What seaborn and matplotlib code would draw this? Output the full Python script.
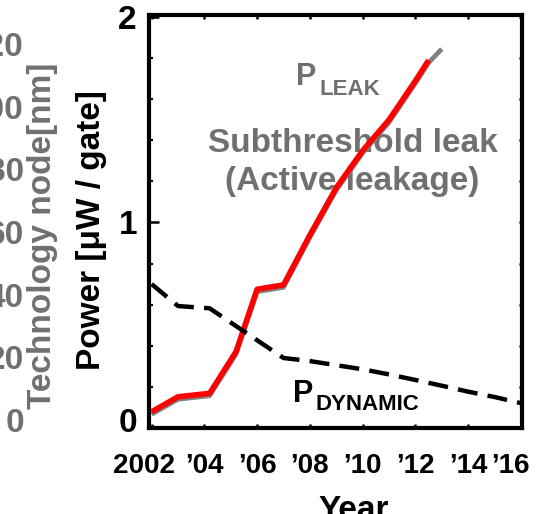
import matplotlib
matplotlib.use("Agg")
import matplotlib.pyplot as plt
import seaborn as sns
from matplotlib.ticker import MultipleLocator
from matplotlib.transforms import ScaledTranslation

# Leakage power (red), total leakage trend (gray) and dynamic power (dashed)
leak_years = [2002, 2003, 2004.2, 2005.2, 2006, 2007, 2008, 2009, 2010, 2011, 2012, 2012.5]
leak_power = [0.078, 0.151, 0.168, 0.371, 0.675, 0.696, 0.939, 1.169, 1.35, 1.50, 1.69, 1.79]
total_years = [2002, 2003, 2004.2, 2005.2, 2006, 2007, 2008, 2009, 2010, 2011, 2012, 2012.5, 2013]
total_power = [0.066, 0.139, 0.156, 0.359, 0.663, 0.684, 0.927, 1.157, 1.338, 1.488, 1.678, 1.778, 1.845]
dyn_years = [2002, 2003, 2004.2, 2007, 2008, 2009, 2010, 2011, 2012, 2013, 2014, 2015, 2016]
dyn_power = [0.70, 0.593, 0.582, 0.34, 0.325, 0.305, 0.285, 0.26, 0.233, 0.205, 0.176, 0.15, 0.12]

year_ticks = [2002, 2004, 2006, 2008, 2010, 2012, 2014, 2016]
year_labels = ["2002", "\u201904", "\u201906", "\u201908", "\u201910", "\u201912", "\u201914", "\u201916"]
power_ticks = [0, 1, 2]
node_ticks = [0, 20, 40, 60, 80, 100, 120]

RED = "#ff0000"
GRAY_LINE = "#808080"
GRAY_TEXT = "#707070"

sns.set_theme(style="ticks")
plt.rcParams["font.family"] = ["Liberation Sans", "DejaVu Sans"]
plt.rcParams["font.weight"] = "bold"

fig = plt.figure(figsize=(5.45, 5.14), dpi=100)
ax = fig.add_axes([0.27431, 0.16770, 0.68294, 0.80370])

sns.lineplot(x=total_years, y=total_power, ax=ax, color=GRAY_LINE, linewidth=3.4,
             estimator=None, sort=False, solid_capstyle="butt")
sns.lineplot(x=leak_years, y=leak_power, ax=ax, color=RED, linewidth=4.0,
             estimator=None, sort=False, solid_capstyle="butt")
sns.lineplot(x=dyn_years, y=dyn_power, ax=ax, color="black", linewidth=3.2,
             linestyle=(0, (4.5, 2.3)), estimator=None, sort=False, dash_capstyle="butt")

ax.set_xlim(2001.92, 2016.03)
ax.set_ylim(0, 2.012)

for s in ax.spines.values():
    s.set_visible(True)
    s.set_linewidth(3.0)
    s.set_color("black")

ax.set_xticks(year_ticks, year_labels)
ax.set_yticks(power_ticks, [str(v) for v in power_ticks])
ax.yaxis.set_minor_locator(MultipleLocator(0.2))
ax.tick_params(axis="x", which="major", direction="in", length=2.9, width=1.8,
               top=True, bottom=True, pad=18, labelsize=20, colors="black")
ax.tick_params(axis="y", which="major", direction="in", length=7.2, width=1.8,
               left=True, right=False, pad=9, labelsize=24, colors="black")
ax.tick_params(axis="y", which="minor", direction="in", length=2.9, width=1.6,
               left=True, right=False, colors="black")

# short ticks along the right edge
sec = ax.secondary_yaxis("right")
sec.set_yticks(power_ticks)
sec.yaxis.set_minor_locator(MultipleLocator(0.2))
sec.tick_params(which="both", direction="in", length=2.5, width=1.8,
                labelright=False, colors="black")
sec.spines["right"].set_visible(False)

# technology node axis on the far left
ax2 = ax.twinx()
ax2.set_ylim(-2.49, 129.35)
ax2.set_yticks(node_ticks, [str(v) for v in node_ticks])
ax2.yaxis.set_ticks_position("left")
ax2.yaxis.set_label_position("left")
ax2.spines["left"].set_position(("outward", 87.5))
for s in ax2.spines.values():
    s.set_visible(False)
ax2.tick_params(axis="y", length=0, pad=2.9, labelsize=24, labelcolor=GRAY_TEXT,
                left=True, labelleft=True, right=False, labelright=False)
ax2.set_ylabel("Technology node[nm]", fontsize=24, fontweight="bold", color=GRAY_TEXT)
ax2.yaxis.set_label_coords(-0.2458, 0.4643)

ax.set_ylabel("Power [\u03bcW / gate]", fontsize=24, fontweight="bold", color="black")
ax.yaxis.set_label_coords(-0.1142, 0.4788)
ax.set_xlabel("Year", fontsize=24, fontweight="bold", color="black")
ax.xaxis.set_label_coords(0.5494, -0.1615)

# curve labels
txt = dict(fontweight="bold", va="baseline", zorder=1)
ax.text(2007.47, 1.669, "P", fontsize=22, color=GRAY_TEXT, ha="left", **txt)
ax.text(2008.35, 1.621, "LEAK", fontsize=16, color=GRAY_TEXT, ha="left", **txt)
ax.text(2009.615, 1.343, "Subthreshold leak", fontsize=24, color=GRAY_TEXT, ha="center", **txt)
ax.text(2009.615, 1.158, "(Active leakage)", fontsize=24, color=GRAY_TEXT, ha="center", **txt)
ax.text(2007.36, 0.1257, "P", fontsize=22, color="black", ha="left", **txt)
ax.text(2008.21, 0.0867, "DYNAMIC", fontsize=16, color="black", ha="left", **txt)


def nudge(label, dx_px, dy_px):
    label.set_transform(label.get_transform()
                        + ScaledTranslation(dx_px / 100, dy_px / 100, fig.dpi_scale_trans))


xt = ax.xaxis.get_major_ticks()
nudge(xt[0].label1, -8, 0)
nudge(xt[-1].label1, -10, 0)
yt = ax.yaxis.get_major_ticks()
nudge(yt[0].label1, 0, 8)

fig.savefig("out.png", dpi=100)
